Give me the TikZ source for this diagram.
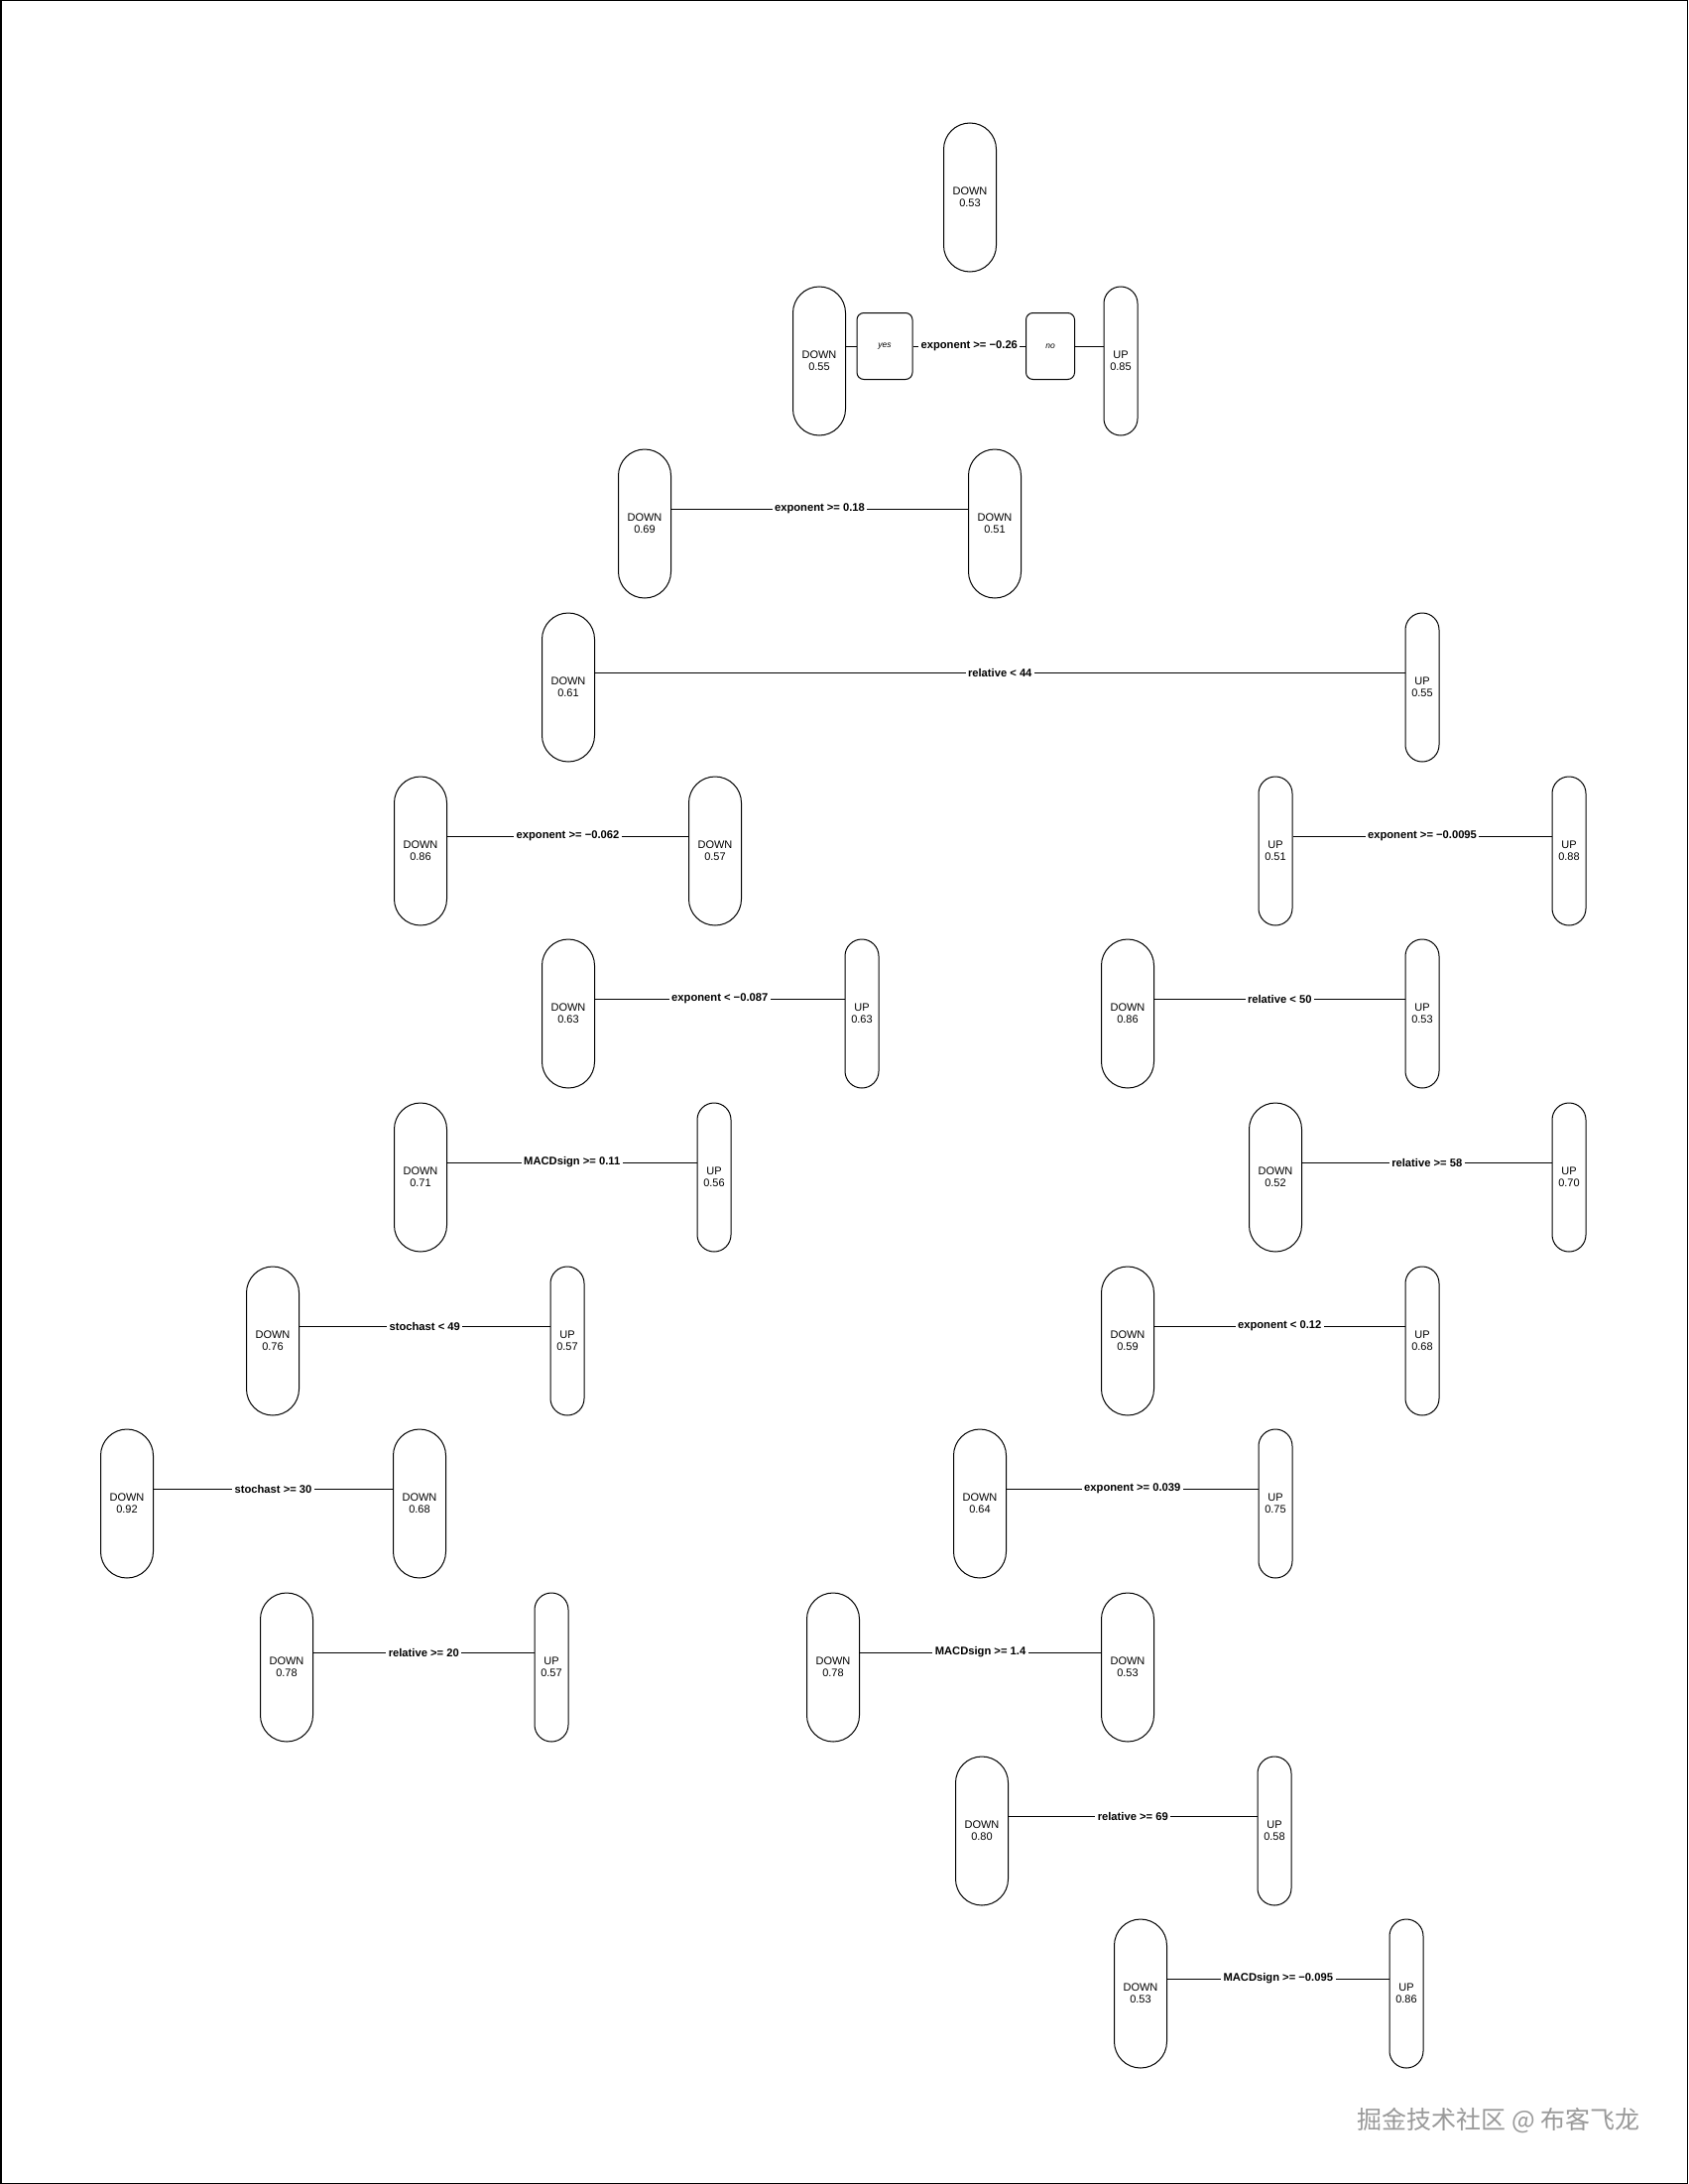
\documentclass[tikz,border=0pt]{standalone}
\usepackage{fontspec}
\setmainfont{Liberation Sans}
\newfontfamily\cjk{Noto Sans CJK SC}
\tikzset{
  leafdown/.style={draw, line width=1pt, rounded corners=26.5pt, minimum width=53pt,
    minimum height=150pt, inner sep=0pt, align=center, font=\fontsize{11}{12}\selectfont},
  leafup/.style={leafdown, rounded corners=17pt, minimum width=34pt},
  answer/.style={draw, line width=1pt, rounded corners=7pt, minimum height=67pt,
    inner sep=0pt, font=\fontsize{8.5}{10}\selectfont\itshape},
  splitlbl/.style={fill=white, inner xsep=2.5pt, inner ysep=1pt, font=\fontsize{11.2}{12}\selectfont\bfseries},
  split/.style={line width=1pt}
}
\begin{document}
\begin{tikzpicture}[x=1pt, y=-1pt]
            \useasboundingbox (0,0) rectangle (1702,2202);
            \draw [line width=1.5pt] (0.75,0.75) rectangle (1701.25,2201.25);  %Rahmen
            % Knoten
            \node [leafdown] (root) at (978,199) {DOWN\\0.53};
            \node [leafdown] (r2a) at (826,364) {DOWN\\0.55};
            \node [leafup]   (r2b) at (1130,364) {UP\\0.85};
            \node [answer, minimum width=56pt] (yesbox) at (892,349) {yes};
            \node [answer, minimum width=49pt] (nobox) at (1059,349) {no};
            \node [leafdown] (r3a) at (650,528) {DOWN\\0.69};
            \node [leafdown] (r3b) at (1003,528) {DOWN\\0.51};
            \node [leafdown] (r4a) at (573,693) {DOWN\\0.61};
            \node [leafup]   (r4b) at (1434,693) {UP\\0.55};
            \node [leafdown] (r5a) at (424,858) {DOWN\\0.86};
            \node [leafdown] (r5b) at (721,858) {DOWN\\0.57};
            \node [leafup]   (r5c) at (1286,858) {UP\\0.51};
            \node [leafup]   (r5d) at (1582,858) {UP\\0.88};
            \node [leafdown] (r6a) at (573,1022) {DOWN\\0.63};
            \node [leafup]   (r6b) at (869,1022) {UP\\0.63};
            \node [leafdown] (r6c) at (1137,1022) {DOWN\\0.86};
            \node [leafup]   (r6d) at (1434,1022) {UP\\0.53};
            \node [leafdown] (r7a) at (424,1187) {DOWN\\0.71};
            \node [leafup]   (r7b) at (720,1187) {UP\\0.56};
            \node [leafdown] (r7c) at (1286,1187) {DOWN\\0.52};
            \node [leafup]   (r7d) at (1582,1187) {UP\\0.70};
            \node [leafdown] (r8a) at (275,1352) {DOWN\\0.76};
            \node [leafup]   (r8b) at (572,1352) {UP\\0.57};
            \node [leafdown] (r8c) at (1137,1352) {DOWN\\0.59};
            \node [leafup]   (r8d) at (1434,1352) {UP\\0.68};
            \node [leafdown] (r9a) at (128,1516) {DOWN\\0.92};
            \node [leafdown] (r9b) at (423,1516) {DOWN\\0.68};
            \node [leafdown] (r9c) at (988,1516) {DOWN\\0.64};
            \node [leafup]   (r9d) at (1286,1516) {UP\\0.75};
            \node [leafdown] (r10a) at (289,1681) {DOWN\\0.78};
            \node [leafup]   (r10b) at (556,1681) {UP\\0.57};
            \node [leafdown] (r10c) at (840,1681) {DOWN\\0.78};
            \node [leafdown] (r10d) at (1137,1681) {DOWN\\0.53};
            \node [leafdown] (r11a) at (990,1846) {DOWN\\0.80};
            \node [leafup]   (r11b) at (1285,1846) {UP\\0.58};
            \node [leafdown] (r12a) at (1150,2010) {DOWN\\0.53};
            \node [leafup]   (r12b) at (1418,2010) {UP\\0.86};
            % Verbindungen
            \draw [split] ([yshift=15pt]r2a.east) -- (yesbox.west);
            \draw [split] (yesbox.east) -- node [splitlbl] {exponent >= −0.26} (nobox.west);
            \draw [split] (nobox.east) -- ([yshift=15pt]r2b.west);
            \draw [split] ([yshift=15pt]r3a.east) -- node [splitlbl] {exponent >= 0.18} ([yshift=15pt]r3b.west);
            \draw [split] ([yshift=15pt]r4a.east) -- node [splitlbl] {relative < 44} ([yshift=15pt]r4b.west);
            \draw [split] ([yshift=15pt]r5a.east) -- node [splitlbl] {exponent >= −0.062} ([yshift=15pt]r5b.west);
            \draw [split] ([yshift=15pt]r5c.east) -- node [splitlbl] {exponent >= −0.0095} ([yshift=15pt]r5d.west);
            \draw [split] ([yshift=15pt]r6a.east) -- node [splitlbl] {exponent < −0.087} ([yshift=15pt]r6b.west);
            \draw [split] ([yshift=15pt]r6c.east) -- node [splitlbl] {relative < 50} ([yshift=15pt]r6d.west);
            \draw [split] ([yshift=15pt]r7a.east) -- node [splitlbl] {MACDsign >= 0.11} ([yshift=15pt]r7b.west);
            \draw [split] ([yshift=15pt]r7c.east) -- node [splitlbl] {relative >= 58} ([yshift=15pt]r7d.west);
            \draw [split] ([yshift=15pt]r8a.east) -- node [splitlbl] {stochast < 49} ([yshift=15pt]r8b.west);
            \draw [split] ([yshift=15pt]r8c.east) -- node [splitlbl] {exponent < 0.12} ([yshift=15pt]r8d.west);
            \draw [split] ([yshift=15pt]r9a.east) -- node [splitlbl] {stochast >= 30} ([yshift=15pt]r9b.west);
            \draw [split] ([yshift=15pt]r9c.east) -- node [splitlbl] {exponent >= 0.039} ([yshift=15pt]r9d.west);
            \draw [split] ([yshift=15pt]r10a.east) -- node [splitlbl] {relative >= 20} ([yshift=15pt]r10b.west);
            \draw [split] ([yshift=15pt]r10c.east) -- node [splitlbl] {MACDsign >= 1.4} ([yshift=15pt]r10d.west);
            \draw [split] ([yshift=15pt]r11a.east) -- node [splitlbl] {relative >= 69} ([yshift=15pt]r11b.west);
            \draw [split] ([yshift=15pt]r12a.east) -- node [splitlbl] {MACDsign >= −0.095} ([yshift=15pt]r12b.west);
            % Wasserzeichen
            \node [text=black!40, font=\cjk\fontsize{25}{28}\selectfont] (mark) at (1511,2138) {掘金技术社区 @ 布客飞龙};
        \end{tikzpicture}
\end{document}
